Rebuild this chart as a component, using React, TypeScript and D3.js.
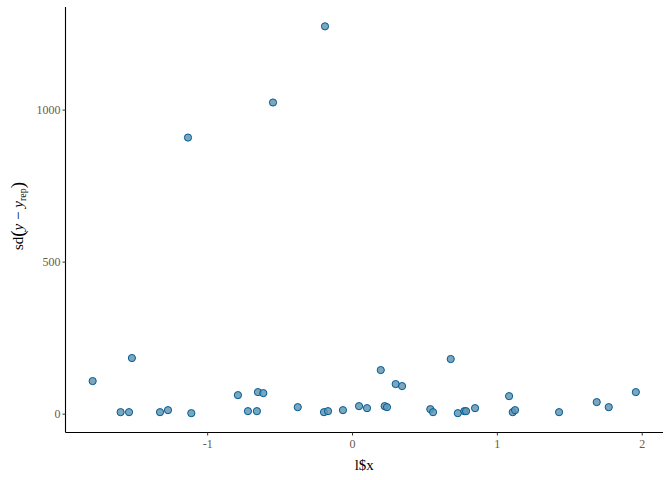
import React from "react";
import * as d3 from "d3";

const xs = [-1.794, -1.523, -1.601, -1.543, -1.329, -1.274, -1.113, -0.791, -0.722, -0.66, -0.653, -0.616, -0.378, -0.197, -0.169, -0.066, 0.045, 0.1, 0.195, 0.222, 0.238, 0.298, 0.342, 0.537, 0.556, 0.678, 0.727, 0.772, 0.784, 0.846, 1.081, 1.106, 1.122, 1.426, 1.686, 1.769, 1.956, -0.19, -0.549, -1.136];
const ys = [108.8, 184.6, 6.6, 6.6, 6.6, 13.2, 3.3, 62.6, 9.9, 9.9, 72.5, 69.2, 23.1, 6.6, 9.9, 13.2, 26.4, 19.8, 145, 26.4, 23.1, 98.9, 92.3, 16.5, 6.6, 181.3, 3.3, 9.9, 9.9, 19.8, 59.3, 6.6, 13.2, 6.6, 39.6, 23.1, 72.5, 1275.5, 1025, 909.7];
const xTicks = [-1, 0, 1, 2];
const yTicks = [0, 500, 1000];

const W = 672, H = 480;
const left = 65.5, right = 663, top = 7, bottom = 432.5;
const FONT = "'Liberation Serif', 'DejaVu Serif', serif";
const TICK_COL = "#6b5a48";

function expand(ext: [number, number]): [number, number] {
  const s = ext[1] - ext[0];
  return [ext[0] - 0.05 * s, ext[1] + 0.05 * s];
}

export default function App() {
  const x = d3.scaleLinear().domain(expand(d3.extent(xs) as [number, number])).range([left, right]);
  const y = d3.scaleLinear().domain(expand(d3.extent(ys) as [number, number])).range([bottom, top]);
  const pts = xs.map((v, i) => ({ x: v, y: ys[i] }));
  return (
    <svg width={W} height={H} style={{ position: "absolute", left: 0, top: 0, background: "#fff" }} fontFamily={FONT}>
      <rect width={W} height={H} fill="#fff" />
      <line x1={left} x2={left} y1={top} y2={bottom} stroke="#000" strokeWidth={1.1} />
      <line x1={left} x2={right} y1={bottom} y2={bottom} stroke="#000" strokeWidth={1.1} />
      {yTicks.map((t) => (
        <g key={"y" + t}>
          <line x1={left - 3} x2={left} y1={y(t)} y2={y(t)} stroke="#333" />
          <text x={left - 5} y={y(t)} dy="0.35em" textAnchor="end" fontSize={12} fill={TICK_COL}>{t}</text>
        </g>
      ))}
      {xTicks.map((t) => (
        <g key={"x" + t}>
          <line x1={x(t)} x2={x(t)} y1={bottom} y2={bottom + 3} stroke="#333" />
          <text x={x(t)} y={bottom + 15} textAnchor="middle" fontSize={12} fill={TICK_COL}>{t}</text>
        </g>
      ))}
      {pts.map((p, i) => (
        <circle key={i} cx={x(p.x)} cy={y(p.y)} r={3.6} fill="#6497b1" fillOpacity={0.85} stroke="#005b96" strokeWidth={1} />
      ))}
      <text x={(left + right) / 2} y={470} textAnchor="middle" fontSize={15} fill="#000">l$x</text>
      <g transform={`translate(23, 216) rotate(-90)`}>
        <text x={0} y={0} textAnchor="middle" fontSize={15} fill="#000">
          <tspan>sd</tspan>
          <tspan fontSize={19} dy={1}>(</tspan>
          <tspan fontStyle="italic" dy={-1}>y</tspan>
          <tspan> − </tspan>
          <tspan fontStyle="italic">y</tspan>
          <tspan fontSize={10} dy={3}>rep</tspan>
          <tspan fontSize={19} dy={-2}>)</tspan>
        </text>
      </g>
    </svg>
  );
}
